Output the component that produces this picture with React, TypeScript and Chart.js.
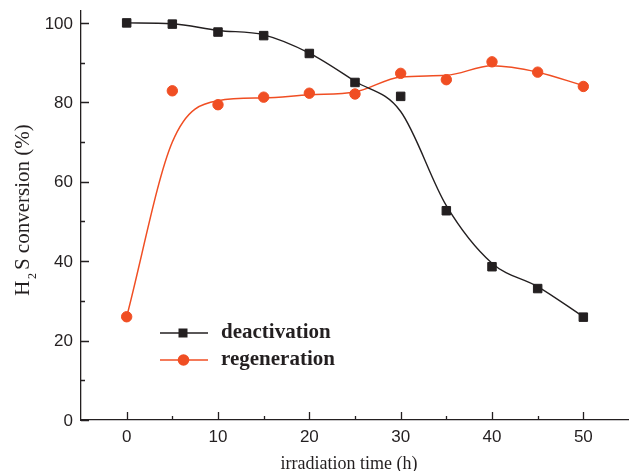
import React, { useEffect, useRef } from 'react';
import { Chart, registerables } from 'chart.js';

Chart.register(...registerables);

// ---- data ----
const times = [0, 5, 10, 15, 20, 25, 30, 35, 40, 45, 50];
const deactivation = [100, 99.7, 97.7, 96.8, 92.3, 85.0, 81.5, 52.7, 38.6, 33.1, 25.9];
const regeneration = [26.0, 82.9, 79.4, 81.3, 82.3, 82.1, 87.3, 85.7, 90.2, 87.6, 84.0];
// smooth fitted curves as drawn in the reference
const deactivationFit = [100, 99.8, 98.1, 97.0, 92.4, 85.3, 77.7, 54.0, 39.5, 33.6, 26.0];
const regenerationFit = [26.0, 70.0, 80.4, 81.1, 81.9, 82.6, 86.4, 86.8, 89.2, 87.6, 84.2];

const xMajorTicks = [0, 10, 20, 30, 40, 50];
const xMinorTicks = [5, 15, 25, 35, 45];
const yMajorTicks = [0, 20, 40, 60, 80, 100];
const yMinorTicks = [10, 30, 50, 70, 90];

const seriesNames = ['deactivation', 'regeneration'];
const xTitle = 'irradiation time (h)';

const BLACK = '#231F20';
const ORANGE = '#F04E23';
const TICK_FONT = '17px "Liberation Sans", Arial, sans-serif';

const pts = (ys: number[]) => times.map((t, i) => ({ x: t, y: ys[i] }));

export default function App() {
  const ref = useRef<HTMLCanvasElement>(null);

  useEffect(() => {
    if (!ref.current) return;

    const decor = {
      id: 'decor',
      afterDraw(chart: any) {
        const { ctx, chartArea, scales } = chart;
        const xs = scales.x;
        const ys = scales.y;
        ctx.save();
        ctx.strokeStyle = BLACK;
        ctx.lineWidth = 1.3;
        // inward ticks
        ctx.beginPath();
        xMajorTicks.forEach((v) => {
          const px = Math.round(xs.getPixelForValue(v)) + 0.5;
          ctx.moveTo(px, chartArea.bottom);
          ctx.lineTo(px, chartArea.bottom - 8);
        });
        xMinorTicks.forEach((v) => {
          const px = Math.round(xs.getPixelForValue(v)) + 0.5;
          ctx.moveTo(px, chartArea.bottom);
          ctx.lineTo(px, chartArea.bottom - 4);
        });
        yMajorTicks.forEach((v) => {
          const py = Math.round(ys.getPixelForValue(v)) + 0.5;
          ctx.moveTo(chartArea.left, py);
          ctx.lineTo(chartArea.left + 8, py);
        });
        yMinorTicks.forEach((v) => {
          const py = Math.round(ys.getPixelForValue(v)) + 0.5;
          ctx.moveTo(chartArea.left, py);
          ctx.lineTo(chartArea.left + 4, py);
        });
        ctx.stroke();

        // tick labels
        ctx.fillStyle = BLACK;
        ctx.font = TICK_FONT;
        ctx.textAlign = 'center';
        ctx.textBaseline = 'middle';
        xMajorTicks.forEach((v) => {
          ctx.fillText(String(v), xs.getPixelForValue(v), chartArea.bottom + 17);
        });
        ctx.textAlign = 'right';
        yMajorTicks.forEach((v) => {
          ctx.fillText(String(v), chartArea.left - 8, ys.getPixelForValue(v) + 1);
        });

        // x title
        ctx.font = '18px "Liberation Serif", "Times New Roman", serif';
        ctx.textAlign = 'center';
        ctx.textBaseline = 'alphabetic';
        ctx.fillText(xTitle, 349, 469);

        // y title with subscript
        ctx.save();
        ctx.translate(28.5, 210);
        ctx.rotate(-Math.PI / 2);
        ctx.textAlign = 'left';
        const big = '21px "Liberation Serif", "Times New Roman", serif';
        const small = '12px "Liberation Serif", "Times New Roman", serif';
        ctx.font = big;
        const wH = ctx.measureText('H').width;
        const rest = 'S conversion (%)';
        const wRest = ctx.measureText(rest).width;
        ctx.font = small;
        const w2 = ctx.measureText('2').width;
        const gap1 = 1.5;
        const gap2 = 3;
        const total = wH + gap1 + w2 + gap2 + wRest;
        let sx = -total / 2;
        ctx.font = big;
        ctx.fillText('H', sx, 0);
        sx += wH + gap1;
        ctx.font = small;
        ctx.fillText('2', sx, 7);
        sx += w2 + gap2;
        ctx.font = big;
        ctx.fillText(rest, sx, 0);
        ctx.restore();

        // legend
        const rows = [
          { y: 333, color: BLACK, shape: 'square', text: seriesNames[0] },
          { y: 360, color: ORANGE, shape: 'circle', text: seriesNames[1] },
        ];
        rows.forEach((r) => {
          ctx.strokeStyle = r.color;
          ctx.lineWidth = 1.4;
          ctx.beginPath();
          ctx.moveTo(160, r.y);
          ctx.lineTo(208, r.y);
          ctx.stroke();
          ctx.fillStyle = r.color;
          ctx.beginPath();
          if (r.shape === 'square') {
            ctx.rect(183 - 4.5, r.y - 4.5, 9, 9);
          } else {
            ctx.arc(183.5, r.y, 5.8, 0, Math.PI * 2);
          }
          ctx.fill();
          ctx.fillStyle = BLACK;
          ctx.font = 'bold 21px "Liberation Serif", "Times New Roman", serif';
          ctx.textAlign = 'left';
          ctx.textBaseline = 'alphabetic';
          ctx.fillText(r.text, 221, r.y + 5);
        });
        ctx.restore();
      },
    };

    const chart = new Chart(ref.current, {
      type: 'line',
      data: {
        datasets: [
          {
            label: seriesNames[0],
            data: pts(deactivation),
            showLine: false,
            pointStyle: 'rect',
            pointRadius: 6,
            pointBackgroundColor: BLACK,
            pointBorderColor: BLACK,
            pointBorderWidth: 1,
            borderColor: BLACK,
            backgroundColor: BLACK,
          },
          {
            label: seriesNames[1],
            data: pts(regeneration),
            showLine: false,
            pointStyle: 'circle',
            pointRadius: 5.2,
            pointBackgroundColor: ORANGE,
            pointBorderColor: ORANGE,
            pointBorderWidth: 1,
            borderColor: ORANGE,
            backgroundColor: ORANGE,
          },
          {
            label: seriesNames[0] + ' fit',
            data: pts(deactivationFit),
            pointRadius: 0,
            borderColor: BLACK,
            borderWidth: 1.4,
            cubicInterpolationMode: 'monotone',
            fill: false,
          },
          {
            label: seriesNames[1] + ' fit',
            data: pts(regenerationFit),
            pointRadius: 0,
            borderColor: ORANGE,
            borderWidth: 1.5,
            cubicInterpolationMode: 'monotone',
            fill: false,
          },
        ],
      },
      options: {
        responsive: false,
        animation: false,
        layout: { autoPadding: false, padding: { top: 11, right: 0, left: 0, bottom: 0 } },
        plugins: {
          legend: { display: false },
          tooltip: { enabled: false },
          title: { display: false },
        },
        scales: {
          x: {
            type: 'linear',
            min: -5,
            max: 55,
            grid: { display: false, drawTicks: false },
            border: { display: true, color: BLACK, width: 1.3 },
            afterBuildTicks: (s: any) => {
              s.ticks = xMajorTicks.map((v) => ({ value: v }));
            },
            afterFit: (s: any) => {
              s.height = 51;
            },
            ticks: { display: false },
          },
          y: {
            type: 'linear',
            min: 0,
            max: 103,
            grid: { display: false, drawTicks: false },
            border: { display: true, color: BLACK, width: 1.3 },
            afterBuildTicks: (s: any) => {
              s.ticks = yMajorTicks.map((v) => ({ value: v }));
            },
            afterFit: (s: any) => {
              s.width = 81;
            },
            ticks: { display: false },
          },
        },
      },
      plugins: [decor],
    });

    return () => chart.destroy();
  }, []);

  return (
    <div style={{ position: 'fixed', left: 0, top: 0, width: 629, height: 471, background: '#fff' }}>
      <canvas ref={ref} width={629} height={471} style={{ display: 'block' }} />
    </div>
  );
}
